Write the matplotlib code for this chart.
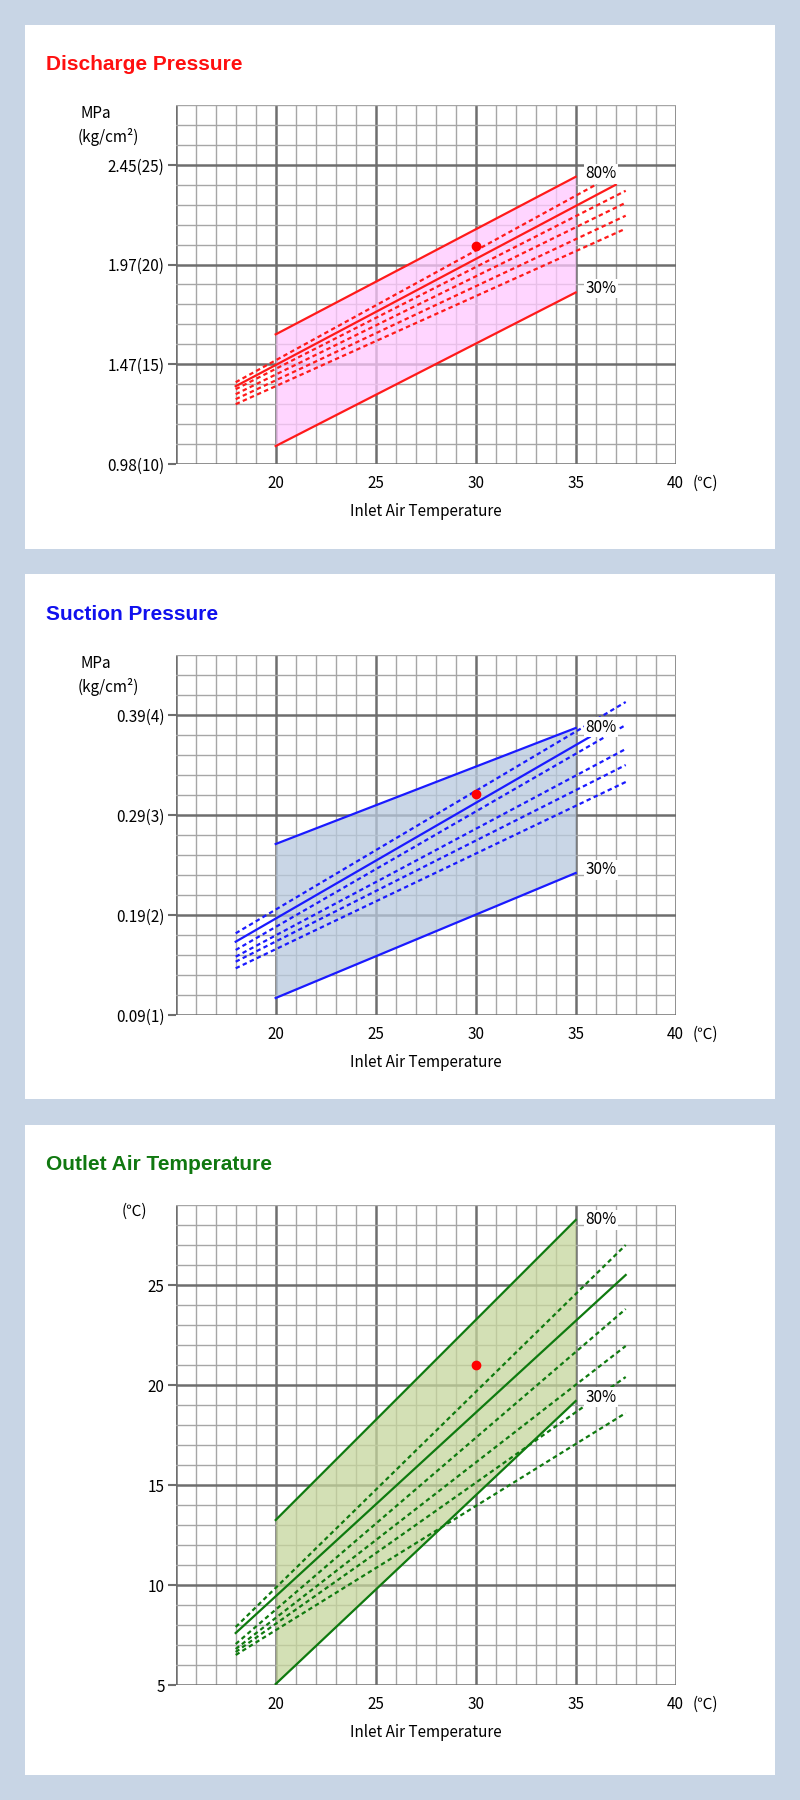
"""Performance curves: discharge pressure, suction pressure, outlet air temperature."""
import matplotlib
matplotlib.use("Agg")
import matplotlib.pyplot as plt
from matplotlib.patches import Rectangle

plt.rcParams["font.family"] = ["Noto Sans CJK JP", "DejaVu Sans"]

W, H = 800, 1800
BG = "#c8d5e5"

# ---- data (x = inlet air temperature, y in kg/cm2 or degC) ----
X_TICKS = [20, 25, 30, 35, 40]

# Discharge pressure (kg/cm2)
dis_upper_x = [20, 35]
dis_upper_y = [16.5, 24.4]
dis_lower_x = [20, 35]
dis_lower_y = [10.9, 18.6]
dis_mid_x = [18, 37]
dis_mid_y = [13.9, 24.0]
dis_dash_x0 = [18, 18, 18, 18, 18]
dis_dash_x1 = [36, 37.5, 37.5, 37.5, 37.5]
dis_dash_y0 = [14.1, 13.75, 13.5, 13.25, 13.0]
dis_dash_y1 = [24.0, 23.7, 23.1, 22.45, 21.8]
dis_point = (30, 20.95)
dis_ticks = [10, 15, 20, 25]
dis_ticklabels = ["0.98(10)", "1.47(15)", "1.97(20)", "2.45(25)"]

# Suction pressure (kg/cm2)
suc_upper_x = [20, 35]
suc_upper_y = [2.71, 3.87]
suc_lower_x = [20, 35]
suc_lower_y = [1.17, 2.42]
suc_mid_x = [18, 35.7]
suc_mid_y = [1.733, 3.78]
suc_dash_x0 = [18, 18, 18, 18, 18]
suc_dash_x1 = [37.5, 37.5, 37.5, 37.5, 37.5]
suc_dash_y0 = [1.817, 1.65, 1.583, 1.533, 1.467]
suc_dash_y1 = [4.13, 3.90, 3.66, 3.50, 3.33]
suc_point = (30, 3.21)
suc_ticks = [1, 2, 3, 4]
suc_ticklabels = ["0.09(1)", "0.19(2)", "0.29(3)", "0.39(4)"]

# Outlet air temperature (degC)
out_upper_x = [20, 35]
out_upper_y = [13.25, 28.25]
out_lower_x = [20, 35]
out_lower_y = [5.05, 19.2]
out_mid_x = [18, 37.5]
out_mid_y = [7.6, 25.5]
out_dash_x0 = [18, 18, 18, 18, 18]
out_dash_x1 = [37.5, 37.5, 37.5, 37.5, 37.5]
out_dash_y0 = [7.9, 7.05, 6.8, 6.65, 6.5]
out_dash_y1 = [27.0, 23.8, 21.95, 20.4, 18.6]
out_point = (30, 21.0)
out_ticks = [5, 10, 15, 20, 25]
out_ticklabels = ["5", "10", "15", "20", "25"]

fig = plt.figure(figsize=(W / 100, H / 100), dpi=100)
fig.patch.set_facecolor(BG)


def fx(px):
    return px / W


def fy(py):
    return 1 - py / H


def panel(top, bottom):
    fig.add_artist(Rectangle((fx(25), fy(bottom)), fx(775) - fx(25), fy(top) - fy(bottom),
                             transform=fig.transFigure, facecolor="white", edgecolor="none",
                             zorder=-5))


def chart(ax_top, ax_bot, ylim, minor, major, color, fill, ux, uy, lx, ly, mx, my,
          dx0, dx1, dy0, dy1, point, ticks, ticklabels, l80, l30):
    ax = fig.add_axes([fx(175.7), fy(ax_bot), fx(675.7) - fx(175.7), fy(ax_top) - fy(ax_bot)])
    ax.set_zorder(2)
    ax.set_xlim(15, 40)
    ax.set_ylim(*ylim)
    ax.patch.set_alpha(0)
    for s in ax.spines.values():
        s.set_visible(False)
    # grid
    for i in range(15, 41):
        major_line = i % 5 == 0
        ax.axvline(i, color="#6e6e6e" if major_line else "#a6a6a6",
                   lw=1.8 if major_line else 1.0, zorder=1)
    n = round((ylim[1] - ylim[0]) / minor)
    for k in range(n + 1):
        v = ylim[0] + k * minor
        r = (v - ylim[0]) / major
        major_line = abs(r - round(r)) < 1e-6
        ax.axhline(v, color="#6e6e6e" if major_line else "#a6a6a6",
                   lw=1.8 if major_line else 1.0, zorder=1)
    ax.set_xticks(X_TICKS)
    ax.set_xticklabels([str(t) for t in X_TICKS], fontsize=11)
    ax.set_yticks(ticks)
    ax.set_yticklabels(ticklabels, fontsize=11)
    ax.tick_params(axis="x", length=0, pad=8)
    ax.tick_params(axis="y", length=6, width=1.5, color="#6e6e6e", pad=2)
    ax.annotate("(℃)", xy=(40, ylim[0]), xytext=(12, -8), textcoords="offset points",
                fontsize=11, va="top", ha="left", annotation_clip=False)
    ax.set_xlabel("Inlet Air Temperature", fontsize=11, labelpad=8)

    # region
    ax.fill_between(ux, ly, uy, color=fill, alpha=0.75, lw=0, zorder=2)
    ax.plot(ux, uy, color=color, lw=1.6, zorder=4)
    ax.plot(lx, ly, color=color, lw=1.6, zorder=4)
    ax.plot(mx, my, color=color, lw=1.6, zorder=4)
    for a, b, c, d in zip(dx0, dx1, dy0, dy1):
        ax.plot([a, b], [c, d], color=color, lw=1.6, ls=(0, (2, 1.5)), zorder=4)
    ax.plot(*point, "o", color="red", ms=6, zorder=5)
    box = dict(facecolor="white", edgecolor="none", pad=1)
    ax.text(35.5, l80, "80%", fontsize=11, va="center", ha="left", bbox=box, zorder=6)
    ax.text(35.5, l30, "30%", fontsize=11, va="center", ha="left", bbox=box, zorder=6)
    return ax


panel(25, 549)
panel(574, 1099)
panel(1125, 1775)

title_font = ["Liberation Sans", "DejaVu Sans"]
fig.text(fx(46), fy(65), "Discharge Pressure", color="#ff1010", fontsize=15, weight="bold",
         va="center", family=title_font)
fig.text(fx(46), fy(615), "Suction Pressure", color="#1010ee", fontsize=15, weight="bold",
         va="center", family=title_font)
fig.text(fx(46), fy(1165), "Outlet Air Temperature", color="#107810", fontsize=15, weight="bold",
         va="center", family=title_font)

chart(105, 464, (10, 28), 1, 5, "#ff1a1a", "#ffc8ff",
      dis_upper_x, dis_upper_y, dis_lower_x, dis_lower_y, dis_mid_x, dis_mid_y,
      dis_dash_x0, dis_dash_x1, dis_dash_y0, dis_dash_y1, dis_point,
      dis_ticks, dis_ticklabels, 24.55, 18.8)
chart(655, 1015, (1, 4.6), 0.2, 1, "#1a1aff", "#b8c9de",
      suc_upper_x, suc_upper_y, suc_lower_x, suc_lower_y, suc_mid_x, suc_mid_y,
      suc_dash_x0, suc_dash_x1, suc_dash_y0, suc_dash_y1, suc_point,
      suc_ticks, suc_ticklabels, 3.88, 2.45)
chart(1205, 1685, (5, 29), 1, 5, "#0f7a0f", "#c5d69c",
      out_upper_x, out_upper_y, out_lower_x, out_lower_y, out_mid_x, out_mid_y,
      out_dash_x0, out_dash_x1, out_dash_y0, out_dash_y1, out_point,
      out_ticks, out_ticklabels, 28.25, 19.4)

for y0 in (113, 663):
    fig.text(fx(80), fy(y0), "MPa", fontsize=11, va="center", ha="left")
    fig.text(fx(78), fy(y0 + 24), "(kg/cm²)", fontsize=11, va="center", ha="left")
fig.text(fx(122), fy(1211), "(℃)", fontsize=11, va="center", ha="left")

fig.savefig("out.png", dpi=100, facecolor=BG)
